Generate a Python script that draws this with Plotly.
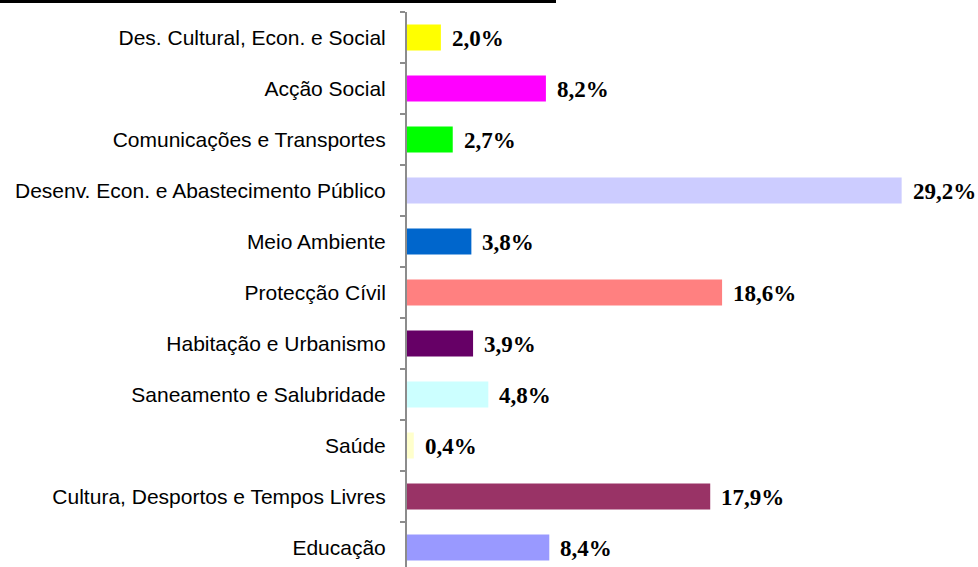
import plotly.graph_objects as go

categories = [
    "Des. Cultural, Econ. e Social",
    "Acção Social",
    "Comunicações e Transportes",
    "Desenv. Econ. e Abastecimento Público",
    "Meio Ambiente",
    "Protecção Cívil",
    "Habitação e Urbanismo",
    "Saneamento e Salubridade",
    "Saúde",
    "Cultura, Desportos e Tempos Livres",
    "Educação",
]
values = [2.0, 8.2, 2.7, 29.2, 3.8, 18.6, 3.9, 4.8, 0.4, 17.9, 8.4]
colors = ["#FFFF00", "#FF00FF", "#00FF00", "#CCCCFF", "#0066CC", "#FF8080",
          "#660066", "#CCFFFF", "#FFFFCC", "#993366", "#9999FF"]

labels = [f"{v:.1f}".replace(".", ",") + "%" for v in values]

W, H = 978, 567
L, T = 407, 12
plot_w = W - L
plot_h = H - T

fig = go.Figure()
fig.add_trace(go.Bar(
    x=values, y=categories, orientation="h",
    marker=dict(color=colors, line=dict(width=0)),
    width=0.51, hoverinfo="skip",
))

for c, v, lab in zip(categories, values, labels):
    fig.add_annotation(
        x=v, y=c, text=f"<b>{lab}</b>", showarrow=False,
        xanchor="left", yanchor="middle", xshift=9, yshift=-1,
        font=dict(family="Liberation Serif", size=23, color="#000000"),
    )

# decorative black rule at top-left
fig.add_shape(
    type="line", xref="paper", yref="paper",
    x0=-L / plot_w, x1=(556 - L) / plot_w,
    y0=1 + 10.5 / plot_h, y1=1 + 10.5 / plot_h,
    line=dict(color="#000000", width=3),
)

px_per_unit = 16.94
fig.update_layout(
    width=W, height=H,
    margin=dict(l=L, r=0, t=T, b=0, pad=0),
    paper_bgcolor="white", plot_bgcolor="white",
    showlegend=False,
    font=dict(family="Liberation Sans", size=21, color="#000000"),
    xaxis=dict(range=[0, plot_w / px_per_unit], visible=False, fixedrange=True),
    yaxis=dict(
        type="category",
        categoryorder="array", categoryarray=categories,
        range=[-0.5 + plot_h / 51.0, -0.5],
        showline=True, linecolor="#8C8C8C", linewidth=2,
        ticks="outside", tickson="boundaries", ticklen=5, tickwidth=1.5,
        tickcolor="#8C8C8C", showgrid=False, zeroline=False,
        ticklabelstandoff=15, fixedrange=True,
        tickfont=dict(family="Liberation Sans", size=21, color="#000000"),
    ),
)

fig.write_html("out.html",
               config={"displayModeBar": False, "staticPlot": True},
               post_script="document.body.style.margin='0px';document.body.style.overflow='hidden';")
